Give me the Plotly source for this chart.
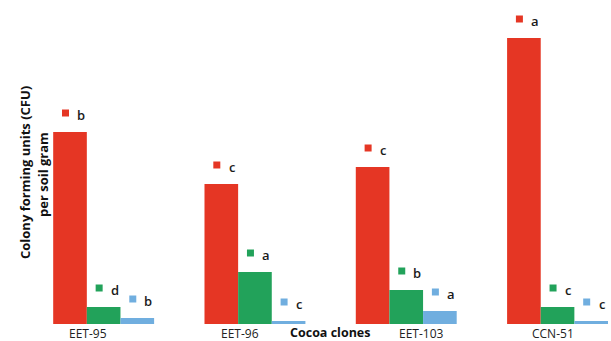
import plotly.graph_objects as go

# Colony counts per soil gram for each cocoa clone (relative units)
clones = ["EET-95", "EET-96", "EET-103", "CCN-51"]
series_names = ["Bacteria", "Fungi", "Actinomycetes"]
series_values = [
    [19.2, 14.0, 15.7, 28.6],
    [1.7, 5.2, 3.4, 1.7],
    [0.6, 0.3, 1.3, 0.3],
]
series_letters = [
    ["b", "c", "c", "a"],
    ["d", "a", "b", "c"],
    ["b", "c", "a", "c"],
]
colors = ["#E53624", "#22A25A", "#70AEDF"]

W, H = 611, 341
ML, MR, MT, MB = 28, 0, 0, 17
plot_w = W - ML - MR
plot_h = H - MT - MB
px_per_group = 151.3
x_lo = -0.5
x_hi = x_lo + plot_w / px_per_group
y_max = 32.4
y_per_px = y_max / plot_h

bargap = 0.333
n = len(series_values)
bar_w = (1 - bargap) / n

fig = go.Figure()
idx = list(range(len(clones)))
for k, (name, vals, col) in enumerate(zip(series_names, series_values, colors)):
    fig.add_trace(go.Bar(
        x=idx, y=vals, name=name, marker=dict(color=col, line=dict(width=0)),
        offsetgroup=str(k), showlegend=False,
    ))

# significance letters: a small colour key square followed by the letter
sq_dx_px, sq_dy_px = -4.5, 19
txt_dx_px, txt_dy_px = 11, 17
for k, (vals, letters, col) in enumerate(zip(series_values, series_letters, colors)):
    off = (k - (n - 1) / 2) * bar_w
    xs = [i + off + sq_dx_px / px_per_group for i in idx]
    ys = [v + sq_dy_px * y_per_px for v in vals]
    fig.add_trace(go.Scatter(
        x=xs, y=ys, mode="markers",
        marker=dict(symbol="square", size=7, color=col, line=dict(width=0)),
        showlegend=False, hoverinfo="skip",
    ))
    for i, (v, t) in enumerate(zip(vals, letters)):
        fig.add_annotation(
            x=i + off, y=v, xref="x", yref="y", text=t, showarrow=False,
            xshift=txt_dx_px, yshift=txt_dy_px, xanchor="center", yanchor="middle",
            font=dict(family="Open Sans", size=13, color="#1a1a1a", weight=600),
        )

# clone names under the groups
label_shift = [-15.5, -14.5, 15, -4.5]
for i, name in enumerate(clones):
    fig.add_annotation(
        x=i, y=0, xref="x", yref="y", text=name, showarrow=False,
        xshift=label_shift[i], yshift=-9, xanchor="center", yanchor="middle",
        font=dict(family="Open Sans", size=12, color="#222222"),
    )

def px_x(p):
    return (p - ML) / plot_w

def px_y(p):
    return 1 - (p - MT) / plot_h

fig.add_annotation(
    x=px_x(329.5), y=px_y(332), xref="paper", yref="paper",
    text="<b>Cocoa clones</b>", showarrow=False,
    xanchor="center", yanchor="middle",
    font=dict(family="Open Sans", size=12.5, color="#111111"),
)
fig.add_annotation(
    x=px_x(25), y=px_y(173), xref="paper", yref="paper",
    text="<b>Colony forming units (CFU)</b>", showarrow=False, textangle=-90,
    xanchor="center", yanchor="middle",
    font=dict(family="Open Sans", size=13, color="#111111"),
)
fig.add_annotation(
    x=px_x(43), y=px_y(175), xref="paper", yref="paper",
    text="<b>per soil gram</b>", showarrow=False, textangle=-90,
    xanchor="center", yanchor="middle",
    font=dict(family="Open Sans", size=13, color="#111111"),
)

fig.update_layout(
    width=W, height=H,
    margin=dict(l=ML, r=MR, t=MT, b=MB),
    barmode="group", bargap=bargap, bargroupgap=0,
    paper_bgcolor="white", plot_bgcolor="white",
    xaxis=dict(range=[x_lo, x_hi], visible=False, fixedrange=True),
    yaxis=dict(range=[0, y_max], visible=False, fixedrange=True),
)

fig.write_html("out.html", config={"displayModeBar": False})
